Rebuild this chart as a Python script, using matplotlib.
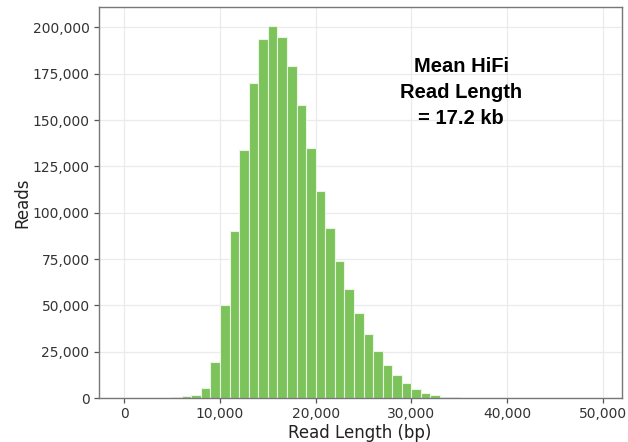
import matplotlib
matplotlib.use("Agg")
import matplotlib.pyplot as plt
from matplotlib.ticker import FuncFormatter

# Histogram bins (left edge, bp) and read counts
bin_starts = list(range(4000, 36000, 1000))
read_counts = [100, 400, 900, 1800, 5500, 19600, 50300, 90400, 134000, 170100,
               193500, 200700, 194900, 179100, 158400, 134800, 112000, 91700,
               74000, 58800, 45800, 34800, 25400, 17800, 12200, 7900, 4900,
               2700, 1400, 700, 300, 100]
bin_width = 1000

x_ticks = [0, 10000, 20000, 30000, 40000, 50000]
y_ticks = [0, 25000, 50000, 75000, 100000, 125000, 150000, 175000, 200000]
annotation = "Mean HiFi\nRead Length\n= 17.2 kb"

fig = plt.figure(figsize=(6.28, 4.42), dpi=100)
ax = fig.add_axes([0.157, 0.0995, 0.833, 0.8845])

ax.bar(bin_starts, read_counts, width=bin_width, align="edge",
       color="#7BC35A", edgecolor="#EAF5E4", linewidth=0.8, zorder=2)

ax.set_xlim(-2700, 52000)
ax.set_ylim(0, 211000)
ax.set_xticks(x_ticks)
ax.set_yticks(y_ticks)
fmt = FuncFormatter(lambda v, p: f"{int(v):,}")
ax.xaxis.set_major_formatter(fmt)
ax.yaxis.set_major_formatter(fmt)

ax.grid(True, color="#EBEBEB", linewidth=0.9, zorder=0)
ax.set_axisbelow(True)
for s in ax.spines.values():
    s.set_color("#777777")
    s.set_linewidth(1.0)
ax.tick_params(axis="both", labelsize=10, colors="#333333", length=3.5, width=0.9, pad=3)
ax.tick_params(axis="both", color="#555555")

ax.set_xlabel("Read Length (bp)", fontsize=12, color="#222222", labelpad=2)
ax.set_ylabel("Reads", fontsize=12, color="#222222", labelpad=1)

ax.text(35200, 165000, annotation, ha="center", va="center",
        fontsize=14.5, fontweight="bold", family="Liberation Sans",
        color="black", linespacing=1.45)

fig.savefig("out.png", dpi=100)
